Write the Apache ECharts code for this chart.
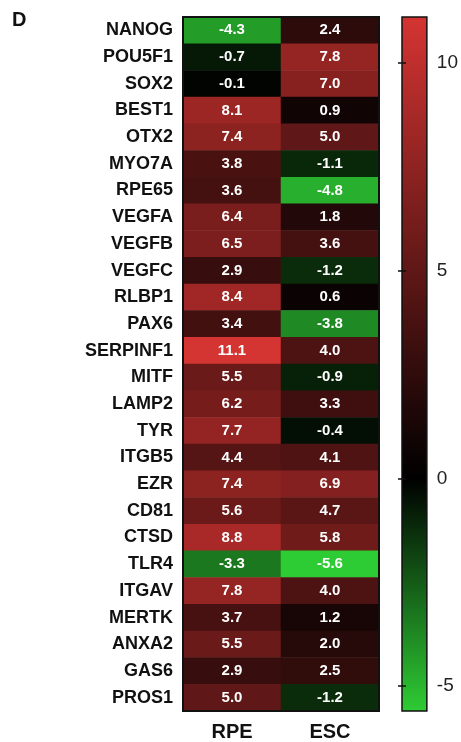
<!DOCTYPE html>
<html>
<head>
<meta charset="utf-8">
<script src="https://cdn.jsdelivr.net/npm/echarts@6/dist/echarts.min.js"></script>
<style>
html,body{margin:0;padding:0;background:#fff;}
#chart{width:461px;height:742px;}
</style>
</head>
<body>
<div id="chart"></div>
<script>
// ---- data ----
var genes = ['NANOG','POU5F1','SOX2','BEST1','OTX2','MYO7A','RPE65','VEGFA','VEGFB','VEGFC','RLBP1','PAX6','SERPINF1','MITF','LAMP2','TYR','ITGB5','EZR','CD81','CTSD','TLR4','ITGAV','MERTK','ANXA2','GAS6','PROS1'];
var samples = ['RPE','ESC'];
var rpeValues = [-4.3,-0.7,-0.1,8.1,7.4,3.8,3.6,6.4,6.5,2.9,8.4,3.4,11.1,5.5,6.2,7.7,4.4,7.4,5.6,8.8,-3.3,7.8,3.7,5.5,2.9,5.0];
var escValues = [2.4,7.8,7.0,0.9,5.0,-1.1,-4.8,1.8,3.6,-1.2,0.6,-3.8,4.0,-0.9,3.3,-0.4,4.1,6.9,4.7,5.8,-5.6,4.0,1.2,2.0,2.5,-1.2];
var colorbarTicks = [-5, 0, 5, 10];
var scaleMin = -5.6, scaleMax = 11.1;

// ---- build ----
var heatData = [];
genes.forEach(function(g, i){
  heatData.push([0, i, rpeValues[i]]);
  heatData.push([1, i, escValues[i]]);
});

var RED = [212, 52, 50], GREEN = [46, 204, 52];
function colorAt(v){
  var c;
  if (v < 0) { var t = Math.min(1, -v / -scaleMin); c = GREEN.map(function(x){return Math.round(x*t);}); }
  else { var t2 = Math.min(1, v / scaleMax); c = RED.map(function(x){return Math.round(x*t2);}); }
  return 'rgb(' + c.join(',') + ')';
}
var stops = [];
var nStops = Math.round((scaleMax - scaleMin) * 10);
for (var k = 0; k <= nStops; k++) stops.push(colorAt(scaleMin + k * 0.1));
// gradient for the colour bar (top = max)
var gradStops = stops.map(function(c, k){ return {offset: 1 - k / nStops, color: c}; }).reverse();
var barGradient = new echarts.graphic.LinearGradient(0, 0, 0, 1, gradStops);

var FONT = 'Arial, "Liberation Sans", Helvetica, sans-serif';
var chart = echarts.init(document.getElementById('chart'), null, {renderer:'canvas'});
chart.setOption({
  animation: false,
  backgroundColor: '#fff',
  title: {
    text: 'D', left: 12, top: 10, padding: 0,
    textStyle: {fontFamily: FONT, fontSize: 20, fontWeight: 'bold', color: '#111'}
  },
  grid: [
    {left: 183, top: 17, width: 196, height: 694, show: true, borderColor: '#111', borderWidth: 2, backgroundColor: 'transparent', z: 10},
    {left: 402, top: 17, width: 25, height: 694, show: true, borderColor: '#111', borderWidth: 1.5, backgroundColor: barGradient}
  ],
  xAxis: [
    {type: 'category', gridIndex: 0, data: samples, position: 'bottom',
     axisLine: {show: false}, axisTick: {show: false}, splitLine: {show: false},
     axisLabel: {fontFamily: FONT, fontSize: 20, fontWeight: 'bold', color: '#111', margin: 11}},
    {type: 'value', gridIndex: 1, show: false}
  ],
  yAxis: [
    {type: 'category', gridIndex: 0, data: genes, inverse: true,
     axisLine: {show: false}, axisTick: {show: false}, splitLine: {show: false},
     axisLabel: {fontFamily: FONT, fontSize: 18, fontWeight: 'bold', color: '#111', margin: 10}},
    {type: 'value', gridIndex: 1, min: scaleMin, max: scaleMax, position: 'right',
     axisLine: {show: false}, splitLine: {show: false},
     axisTick: {show: true, inside: false, length: -4, customValues: colorbarTicks, lineStyle: {color: '#111', width: 1.5}},
     axisLabel: {show: true, customValues: colorbarTicks, fontFamily: FONT, fontSize: 19, color: '#222', margin: 10}},
    {type: 'value', gridIndex: 1, min: scaleMin, max: scaleMax, position: 'left',
     axisLine: {show: false}, splitLine: {show: false},
     axisTick: {show: true, inside: false, length: -4, customValues: colorbarTicks, lineStyle: {color: '#111', width: 1.5}},
     axisLabel: {show: false}}
  ],
  visualMap: {
    type: 'continuous', min: scaleMin, max: scaleMax, seriesIndex: 0, show: false,
    inRange: {color: stops}
  },
  series: [{
    type: 'heatmap', xAxisIndex: 0, yAxisIndex: 0, data: heatData,
    itemStyle: {borderWidth: 0},
    label: {show: true, color: '#fff', fontFamily: FONT, fontSize: 15, fontWeight: 'bold',
      formatter: function(p){ return p.value[2].toFixed(1); }},
    emphasis: {disabled: true}
  }]
});
</script>
</body>
</html>
